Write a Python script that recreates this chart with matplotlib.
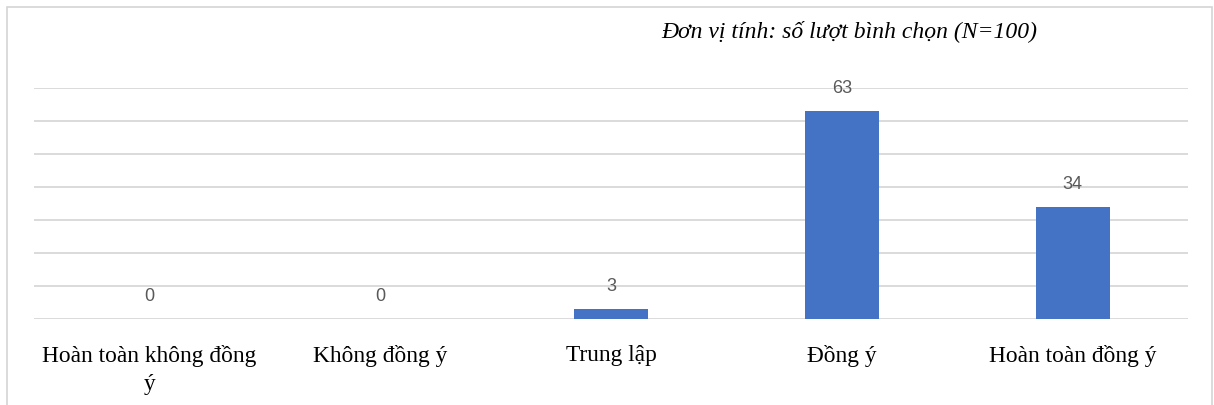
import numpy as np
import matplotlib.pyplot as plt
from matplotlib.patches import Rectangle

categories = ['Hoàn toàn không đồng\ný', 'Không đồng ý', 'Trung lập', 'Đồng ý', 'Hoàn toàn đồng ý']
votes = [0, 0, 3, 63, 34]
note = 'Đơn vị tính: số lượt bình chọn (N=100)'

bar_color = '#4472c4'
grid_color = '#d4d4d4'
serif = ['Liberation Serif', 'DejaVu Serif']

fig = plt.figure(figsize=(12.14, 4.05), dpi=100)
W, H = 1214, 405
ax = fig.add_axes([34 / W, 86 / H, (1188 - 34) / W, (319 - 88) / H])

# outer chart frame
fig.patches.append(Rectangle((7 / W, -0.02), (1212 - 7) / W, (H - 7) / H + 0.02,
                             transform=fig.transFigure, fill=False,
                             edgecolor=grid_color, lw=1.2))

x = np.arange(len(categories))
ax.bar(x, votes, width=0.32, color=bar_color, zorder=3)
ax.set_xlim(-0.5, len(categories) - 0.5)
ax.set_ylim(0, 70)
ax.set_yticks(np.arange(0, 71, 10))
ax.yaxis.grid(True, color=grid_color, lw=1.2, zorder=0)
ax.tick_params(axis='y', left=False, labelleft=False)
ax.tick_params(axis='x', bottom=False, pad=15)
ax.set_xticks(x)
ax.set_xticklabels(categories, fontsize=16.8, family=serif, linespacing=1.45)
for s in ax.spines.values():
    s.set_visible(False)

for xi, v in zip(x, votes):
    ax.annotate(str(v), (xi, v), xytext=(0, 16), textcoords='offset points',
                ha='center', va='center', fontsize=13, color='#595959',
                family=['Liberation Sans', 'DejaVu Sans'])

fig.text(849 / W, 1 - 31 / H, note, ha='center', va='center', fontsize=17,
         style='italic', family=serif)

fig.savefig('out.png', dpi=100)
